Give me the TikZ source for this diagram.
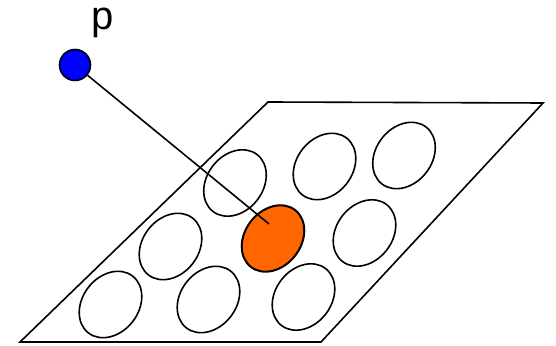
\documentclass[tikz,border=0pt]{standalone}
\usepackage{fontspec}
\setmainfont{Liberation Sans}
\begin{document}
\begin{tikzpicture}[x=1pt,y=1pt,
  hole/.style={draw=black,line width=1.6pt,fill=white},
  target/.style={draw=black,line width=2pt,fill=orangeC},
  edge/.style={draw=black,line width=1.6pt,line join=miter}]
\definecolor{orangeC}{HTML}{FF6600}
\definecolor{blueC}{HTML}{0000FF}
\useasboundingbox (0,0) rectangle (556,345);
% plane
\coordinate (tl) at (268,243);
\coordinate (tr) at (543,242);
\coordinate (br) at (321,3);
\coordinate (bl) at (20,3);
\draw[edge] (tl) -- (tr) -- (br) -- (bl) -- cycle;
% holes
\foreach \x/\y in {110.5/304.5, 208.5/299.5, 303.5/297, 170.5/246.5, 364.5/233, 235/183, 324.5/166.5, 404/155.5}{
  \draw[hole] (\x,345-\y) ellipse[x radius=36, y radius=28, rotate=52];
}
\coordinate (o) at (273,106.5);
\draw[target] (o) ellipse[x radius=36, y radius=28, rotate=52];
\coordinate (c) at (269,121);
% point
\node[circle,draw=black,line width=1.6pt,fill=blueC,minimum size=31pt,inner sep=0pt] (p) at (75,280) {};
\node[anchor=base,font=\fontsize{40}{44}\selectfont,inner sep=0pt] (lbl) at (103,315) {p};
\draw[line width=1.6pt] (p) -- (c);
\end{tikzpicture}
\end{document}
